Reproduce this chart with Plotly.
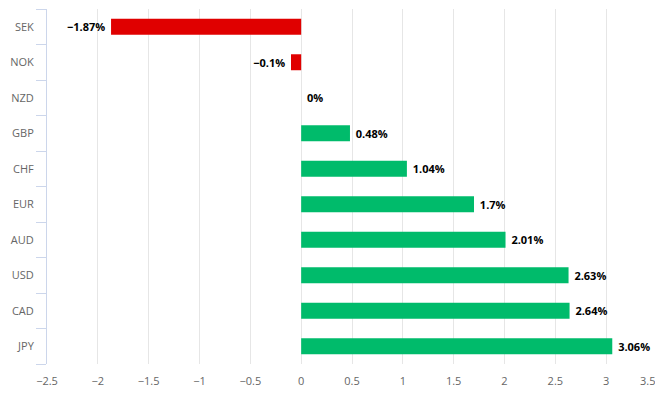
import plotly.graph_objects as go

currencies = ["SEK", "NOK", "NZD", "GBP", "CHF", "EUR", "AUD", "USD", "CAD", "JPY"]
changes = [-1.87, -0.1, 0.0, 0.48, 1.04, 1.7, 2.01, 2.63, 2.64, 3.06]
x_ticks = [-2.5, -2, -1.5, -1, -0.5, 0, 0.5, 1, 1.5, 2, 2.5, 3, 3.5]

RED = "#e00000"
GREEN = "#00bb6b"
PAD = "\u00a0"

def fmt(v):
    s = f"{abs(v):g}%"
    return ("\u2212" + s + PAD) if v < 0 else (PAD + s)

def tick_fmt(v):
    s = f"{abs(v):g}"
    return ("\u2212" + s) if v < 0 else s

colors = [RED if v < 0 else GREEN for v in changes]
labels = [fmt(v) for v in changes]
tick_text = [tick_fmt(v) for v in x_ticks]

fig = go.Figure(go.Bar(
    y=currencies,
    x=changes,
    orientation="h",
    marker=dict(color=colors, line=dict(width=0)),
    text=labels,
    textposition="outside",
    cliponaxis=False,
    textfont=dict(family="Open Sans", size=11, color="#000000", weight="bold"),
    hoverinfo="skip",
))

# page body adds an 8px margin, so the figure is sized/offset to compensate
fig.update_layout(
    width=649,
    height=382,
    margin=dict(l=39, r=0, t=1, b=26, autoexpand=False),
    paper_bgcolor="white",
    plot_bgcolor="white",
    showlegend=False,
    bargap=0.55,
    font=dict(family="Open Sans", size=11, color="#666666"),
    xaxis=dict(
        range=[x_ticks[0], x_ticks[-1]],
        tickvals=x_ticks[:-1],
        ticktext=tick_text[:-1],
        showgrid=True,
        gridcolor="#e6e6e6",
        gridwidth=1,
        zeroline=False,
        showline=False,
        ticks="",
        automargin=False,
        ticklabelstandoff=9,
        tickfont=dict(size=11, color="#666666"),
        fixedrange=True,
    ),
    yaxis=dict(
        categoryorder="array",
        categoryarray=currencies[::-1],
        showgrid=False,
        zeroline=False,
        showline=True,
        linecolor="#ccd6eb",
        linewidth=1,
        ticks="outside",
        tickson="boundaries",
        ticklen=10,
        tickcolor="#ccd6eb",
        automargin=False,
        tickfont=dict(size=11, color="#666666"),
        ticklabelstandoff=10,
        fixedrange=True,
    ),
    shapes=[dict(
        type="line", xref="x", yref="paper",
        x0=x_ticks[-1], x1=x_ticks[-1], y0=0, y1=1,
        line=dict(color="#e6e6e6", width=1), layer="below",
    )],
    annotations=[dict(
        text=tick_text[-1], xref="x", yref="paper",
        x=x_ticks[-1], y=0, xanchor="right", yanchor="top",
        xshift=0, yshift=-7, showarrow=False,
        font=dict(family="Open Sans", size=11, color="#666666"),
    )],
)

fig.write_html("out.html")
